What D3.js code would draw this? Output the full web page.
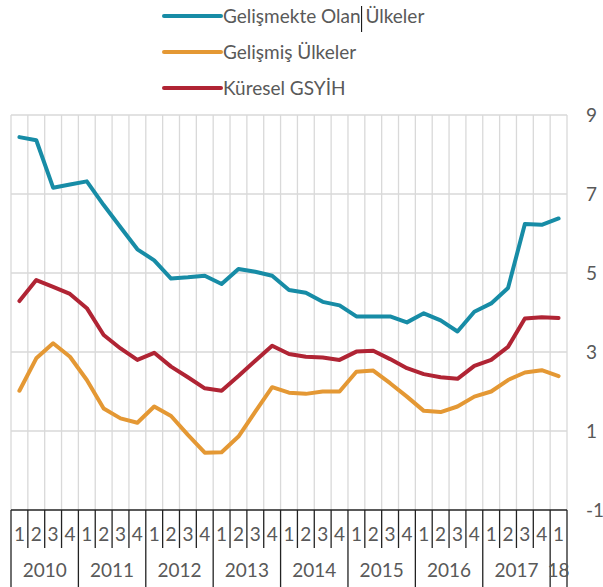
<!DOCTYPE html>
<html>
<head>
<meta charset="utf-8">
<script src="https://cdn.jsdelivr.net/npm/d3@7"></script>
<style>
  body { margin: 0; background: #fff; }
  svg { display: block; }
</style>
</head>
<body>
<svg id="graph"></svg>
<script>
var width = 603, height = 587;

// quarters 2010Q1 .. 2018Q1
var periods = ["2010-1","2010-2","2010-3","2010-4","2011-1","2011-2","2011-3","2011-4",
               "2012-1","2012-2","2012-3","2012-4","2013-1","2013-2","2013-3","2013-4",
               "2014-1","2014-2","2014-3","2014-4","2015-1","2015-2","2015-3","2015-4",
               "2016-1","2016-2","2016-3","2016-4","2017-1","2017-2","2017-3","2017-4","2018-1"];
var quarterLabels = ["1","2","3","4","1","2","3","4","1","2","3","4","1","2","3","4",
                     "1","2","3","4","1","2","3","4","1","2","3","4","1","2","3","4","1"];
var yearLabels = ["2010","2011","2012","2013","2014","2015","2016","2017","18"];
var yearStart  = ["2010-1","2011-1","2012-1","2013-1","2014-1","2015-1","2016-1","2017-1","2018-1"];
var yearEnd    = ["2010-4","2011-4","2012-4","2013-4","2014-4","2015-4","2016-4","2017-4","2018-1"];
var yTicks = [-1, 1, 3, 5, 7, 9];

var seriesNames = ["Gelişmekte Olan Ülkeler", "Gelişmiş Ülkeler", "Küresel GSYİH"];
var developing = [8.44, 8.36, 7.16, 7.24, 7.32, 6.72, 6.16, 5.6, 5.32, 4.86, 4.89, 4.93, 4.72, 5.1, 5.03, 4.93,
                  4.57, 4.5, 4.27, 4.18, 3.9, 3.9, 3.9, 3.75, 3.98, 3.8, 3.52, 4.02, 4.23, 4.62, 6.24, 6.22, 6.38];
var advanced   = [2.02, 2.84, 3.22, 2.88, 2.29, 1.57, 1.32, 1.21, 1.62, 1.38, 0.9, 0.45, 0.46, 0.86, 1.49, 2.11,
                  1.97, 1.94, 2.0, 2.0, 2.5, 2.53, 2.21, 1.87, 1.51, 1.48, 1.62, 1.87, 2.0, 2.29, 2.48, 2.54, 2.39];
var globalGdp  = [4.29, 4.82, 4.65, 4.47, 4.11, 3.43, 3.09, 2.8, 2.98, 2.63, 2.36, 2.08, 2.02, 2.39, 2.78, 3.16,
                  2.95, 2.88, 2.86, 2.8, 3.01, 3.03, 2.82, 2.59, 2.44, 2.36, 2.32, 2.65, 2.8, 3.13, 3.85, 3.88, 3.86];

var color = ["#178ca6", "#e49834", "#b02434"];
var textColor = "#595959";
var font = "Lato, 'Open Sans', sans-serif";

var plotLeft = 11, plotRight = 567, plotTop = 115, plotBottom = 510;

var svg = d3.select("#graph")
	.attr("width", width)
	.attr("height", height);

var x = d3.scaleBand().domain(periods).range([plotLeft, plotRight]).padding(0);
var y = d3.scaleLinear().domain([-1, 9]).range([plotBottom, plotTop]);

// grid
svg.append("g").selectAll("line")
	.data(yTicks.filter(d => d > -1))
	.enter().append("line")
	.attr("x1", plotLeft).attr("x2", plotRight)
	.attr("y1", d => y(d)).attr("y2", d => y(d))
	.attr("stroke", "#d9d9d9").attr("stroke-width", 1.3);

var bounds = periods.map(p => x(p)).concat([plotRight]);
svg.append("g").selectAll("line")
	.data(bounds)
	.enter().append("line")
	.attr("x1", d => d).attr("x2", d => d)
	.attr("y1", plotTop).attr("y2", plotBottom)
	.attr("stroke", "#d9d9d9").attr("stroke-width", 1.3);

// y labels on the right
svg.append("g").selectAll("text")
	.data(yTicks)
	.enter().append("text")
	.attr("x", 586)
	.attr("y", d => y(d))
	.attr("dy", "0.35em")
	.attr("font-family", font)
	.attr("font-size", "19px")
	.attr("fill", textColor)
	.text(d => d);

// lines
var line = d3.line()
	.x((d, i) => x(periods[i]) + x.bandwidth() / 2)
	.y(d => y(d));

[developing, advanced, globalGdp].forEach(function (s, k) {
	svg.append("path")
		.datum(s)
		.attr("d", line)
		.attr("fill", "none")
		.attr("stroke", color[k])
		.attr("stroke-width", 4)
		.attr("stroke-linejoin", "round")
		.attr("stroke-linecap", "round");
});

// category axis box
var axis = svg.append("g").attr("stroke", "#222").attr("stroke-width", 1.3);
axis.append("line").attr("x1", plotLeft).attr("x2", plotRight).attr("y1", plotBottom).attr("y2", plotBottom);
axis.selectAll("line.q")
	.data(periods.slice(1).filter(p => yearStart.indexOf(p) < 0))
	.enter().append("line")
	.attr("class", "q")
	.attr("x1", d => x(d)).attr("x2", d => x(d))
	.attr("y1", plotBottom).attr("y2", 548);
axis.selectAll("line.yr")
	.data(yearStart.map(p => x(p)).concat([plotRight]))
	.enter().append("line")
	.attr("class", "yr")
	.attr("x1", d => d).attr("x2", d => d)
	.attr("y1", plotBottom).attr("y2", height);

svg.append("g").selectAll("text")
	.data(periods)
	.enter().append("text")
	.attr("x", d => x(d) + x.bandwidth() / 2)
	.attr("y", 541)
	.attr("text-anchor", "middle")
	.attr("font-family", font)
	.attr("font-size", "19px")
	.attr("fill", textColor)
	.text((d, i) => quarterLabels[i]);

svg.append("g").selectAll("text")
	.data(yearLabels)
	.enter().append("text")
	.attr("x", (d, i) => (x(yearStart[i]) + x(yearEnd[i]) + x.bandwidth()) / 2)
	.attr("y", 577)
	.attr("text-anchor", "middle")
	.attr("font-family", font)
	.attr("font-size", "19px")
	.attr("fill", textColor)
	.text(d => d);

// legend
var legendY = [16, 52, 88];
var legend = svg.append("g");
seriesNames.forEach(function (name, k) {
	legend.append("line")
		.attr("x1", 164).attr("x2", 221)
		.attr("y1", legendY[k]).attr("y2", legendY[k])
		.attr("stroke", color[k])
		.attr("stroke-width", 4)
		.attr("stroke-linecap", "round");
	var t = legend.append("text")
		.attr("x", 223)
		.attr("y", legendY[k])
		.attr("dy", "0.35em")
		.attr("font-family", font)
		.attr("font-size", "19px")
		.attr("fill", textColor)
		.text(name);
	if (k == 0) {
		// text cursor mark seen after "Olan"
		var w = t.node().getSubStringLength(0, 15);
		legend.append("line")
			.attr("x1", 223 + w + 1).attr("x2", 223 + w + 1)
			.attr("y1", 6).attr("y2", 32)
			.attr("stroke", "#000").attr("stroke-width", 1);
	}
});
</script>
</body>
</html>
